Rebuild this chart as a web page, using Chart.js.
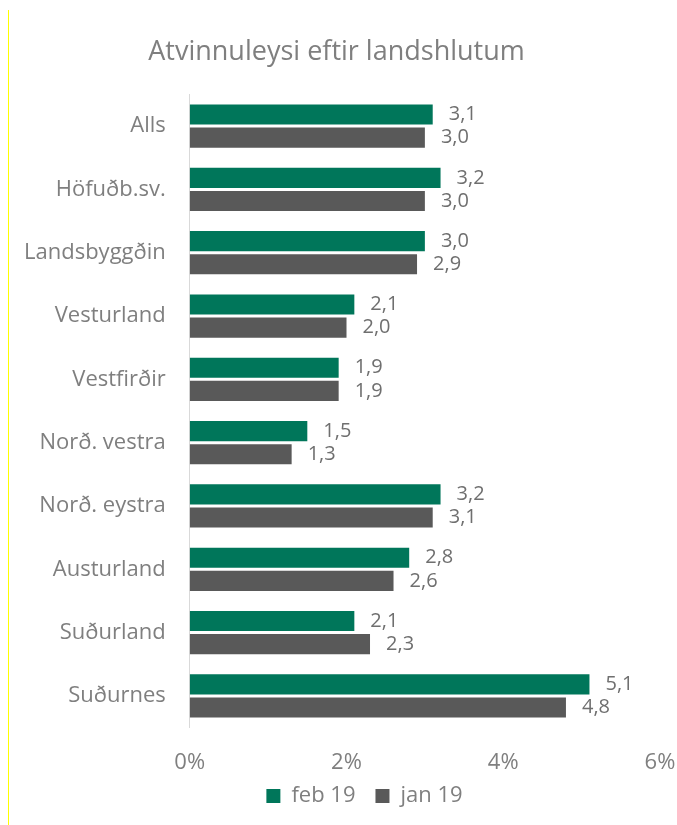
<!DOCTYPE html>
<html><head><meta charset="utf-8">
<script src="https://cdn.jsdelivr.net/npm/chart.js@4/dist/chart.umd.min.js"></script>
<style>
html,body{margin:0;padding:0;background:#fff;}
#wrap{position:relative;width:677px;height:825px;}
#yl{position:absolute;left:8px;top:10px;width:1px;height:815px;background:#ffff00;}
canvas{position:absolute;left:0;top:0;}
</style></head>
<body><div id="wrap"><div id="yl"></div><canvas id="c" width="677" height="825"></canvas></div>
<script>
const categories = ["Alls","Höfuðb.sv.","Landsbyggðin","Vesturland","Vestfirðir","Norð. vestra","Norð. eystra","Austurland","Suðurland","Suðurnes"];
const feb19 = [3.1,3.2,3.0,2.1,1.9,1.5,3.2,2.8,2.1,5.1];
const jan19 = [3.0,3.0,2.9,2.0,1.9,1.3,3.1,2.6,2.3,4.8];
const seriesNames = ["feb 19","jan 19"];
const FONT = "'Open Sans', sans-serif";
const TXT = "#7f7f7f";

const labelPlugin = {
  id:'barLabels',
  afterLayout(chart){
    const lg = chart.legend;
    if (lg) { lg.left += 28; lg.right += 28; lg.top -= 13; lg.bottom -= 13; }
  },
  afterDatasetsDraw(chart){
    const ctx = chart.ctx;
    ctx.save();
    ctx.font = "20px " + FONT;
    ctx.fillStyle = "#6f6f6f";
    ctx.textBaseline = "middle";
    ctx.textAlign = "left";
    chart.data.datasets.forEach((ds,i)=>{
      const meta = chart.getDatasetMeta(i);
      meta.data.forEach((bar,j)=>{
        const txt = ds.data[j].toFixed(1).replace('.',',');
        ctx.fillText(txt, bar.x + 16, bar.y);
      });
    });
    ctx.restore();
  }
};

new Chart(document.getElementById('c'), {
  type:'bar',
  data:{
    labels: categories,
    datasets:[
      {label:seriesNames[0], data:feb19, backgroundColor:'#00765a', borderWidth:0, categoryPercentage:0.73, barPercentage:0.87},
      {label:seriesNames[1], data:jan19, backgroundColor:'#595959', borderWidth:0, categoryPercentage:0.73, barPercentage:0.87}
    ]
  },
  options:{
    indexAxis:'y',
    responsive:false,
    animation:false,
    layout:{padding:{left:0,right:4,top:36,bottom:-5}},
    plugins:{
      title:{display:true,text:"Atvinnuleysi eftir landshlutum",color:TXT,font:{family:FONT,size:27,weight:'normal'},padding:{top:0,bottom:26}},
      legend:{position:'bottom',labels:{color:TXT,font:{family:FONT,size:22},boxWidth:14,boxHeight:14,padding:20}},
      tooltip:{enabled:false}
    },
    scales:{
      x:{min:0,max:6,
         afterFit(s){ s.height -= 20; s.paddingRight = 17; },
         ticks:{stepSize:2,color:TXT,font:{family:FONT,size:22},padding:22,callback:v=>v+'%'},
         grid:{display:false,drawTicks:false},border:{display:false}},
      y:{ticks:{color:TXT,font:{family:FONT,size:22},padding:24},
         grid:{display:false,drawTicks:false},border:{display:true,color:'#d9d9d9',width:1}}
    }
  },
  plugins:[labelPlugin]
});
</script></body></html>
